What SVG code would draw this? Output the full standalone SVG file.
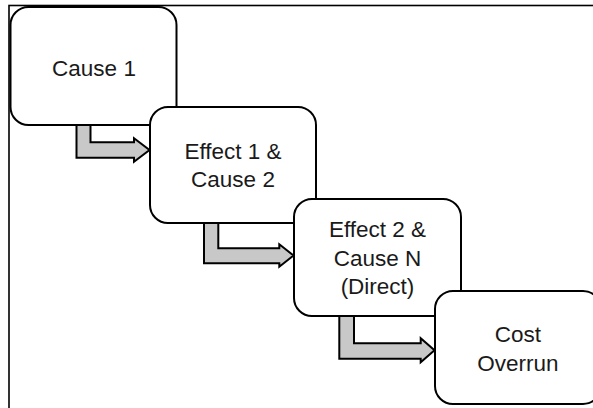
<svg xmlns="http://www.w3.org/2000/svg" width="593" height="408" viewBox="0 0 593 408">
<style>
.box{fill:#fff;stroke:#000;stroke-width:2}
.arr{fill:#c8c8c8;stroke:#000;stroke-width:2;stroke-linejoin:miter}
text{font-family:"Liberation Sans",Arial,sans-serif;font-size:22.5px;fill:#1a1a1a;text-anchor:middle}
</style>
<rect x="0" y="0" width="593" height="408" fill="#fff"/>
<rect id="frame" x="9" y="5.5" width="600" height="420" fill="none" stroke="#000" stroke-width="1.6"/>
<g id="connectors">
<path class="arr" d="M76.5,125 V157.7 H134 V161.7 L149.5,150 L134,138.3 V142.3 H90.5 V125 Z"/>
<path class="arr" d="M204,223 V263.3 H279.3 V266.7 L293.5,255.5 L279.3,244.3 V248.3 H218.3 V223 Z"/>
<path class="arr" d="M339.3,316 V358.7 H420.7 V362.3 L434.5,350.3 L420.7,338.3 V343.3 H354 V316 Z"/>
</g>
<g id="cause1">
<rect class="box" x="10.5" y="7" width="166" height="118" rx="18"/>
<text x="94" y="75.5">Cause 1</text>
</g>
<g id="effect1">
<rect class="box" x="150" y="107" width="166" height="116" rx="18"/>
<text x="233" y="158.5">Effect 1 &amp;</text>
<text x="233" y="187">Cause 2</text>
</g>
<g id="effect2">
<rect class="box" x="294" y="199" width="167" height="117" rx="18"/>
<text x="377.5" y="237">Effect 2 &amp;</text>
<text x="377.5" y="265.5">Cause N</text>
<text x="377.5" y="293.5">(Direct)</text>
</g>
<g id="cost">
<rect class="box" x="435" y="291" width="166" height="113" rx="18"/>
<text x="518" y="342">Cost</text>
<text x="518" y="370.5">Overrun</text>
</g>
</svg>
